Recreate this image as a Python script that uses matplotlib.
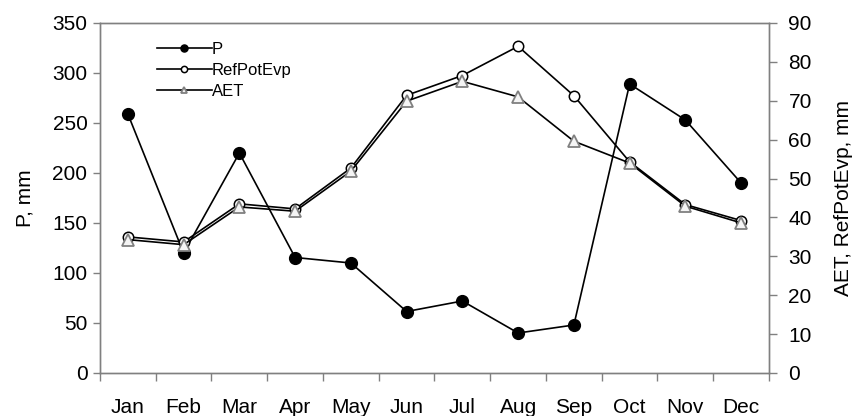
import numpy as np
import matplotlib.pyplot as plt
from matplotlib.ticker import FixedLocator

months = ['Jan', 'Feb', 'Mar', 'Apr', 'May', 'Jun', 'Jul', 'Aug', 'Sep', 'Oct', 'Nov', 'Dec']
p_mm = [259, 120, 220, 115.5, 110, 61.5, 72, 40, 48, 289, 253, 190]
ref_pot_evp = [35.0, 33.7, 43.5, 42.2, 52.7, 71.4, 76.5, 84.0, 71.3, 54.3, 43.3, 39.2]
aet = [34.3, 33.0, 42.7, 41.6, 51.9, 69.9, 75.0, 71.0, 59.6, 54.0, 42.9, 38.6]

plt.rcParams['font.family'] = ['Liberation Sans', 'DejaVu Sans']
grey = '#808080'
fs = 15

fig = plt.figure(figsize=(8.54, 4.16), dpi=100)
ax = fig.add_axes([100/854, 43/416, 669/854, 350/416])
ax2 = ax.twinx()

x = np.arange(len(months))

l1, = ax.plot(x, p_mm, '-', color='black', lw=1.2, marker='o', ms=8.5,
              mfc='black', mec='black', zorder=3)
l2, = ax2.plot(x, ref_pot_evp, '-', color='black', lw=1.2, marker='o', ms=7.5,
               mfc='white', mec='black', mew=1.1, zorder=3)
l3, = ax2.plot(x, aet, '-', color='black', lw=1.2, marker='^', ms=8,
               mfc='#f4f4f4', mec=grey, mew=1.3, zorder=4)

ax.set_xlim(-0.5, 11.5)
ax.set_ylim(0, 350)
ax2.set_ylim(0, 90)
ax.set_yticks(np.arange(0, 351, 50))
ax2.set_yticks(np.arange(0, 91, 10))

ax.set_xticks(x)
ax.set_xticklabels(months)
ax.xaxis.set_minor_locator(FixedLocator(np.arange(-0.5, 12, 1)))
ax.tick_params(axis='x', which='major', length=0, pad=18, labelsize=fs)
ax.tick_params(axis='x', which='minor', length=6, color=grey, width=1)
ax.tick_params(axis='y', length=5, color=grey, width=1, pad=4, labelsize=fs)
ax2.tick_params(axis='y', length=6, color=grey, width=1, pad=8, labelsize=fs)

for a in (ax, ax2):
    for s in a.spines.values():
        s.set_color(grey)
        s.set_linewidth(1)

ax.set_ylabel('P, mm', fontsize=fs, labelpad=13)
ax2.set_ylabel('AET, RefPotEvp, mm', fontsize=fs, labelpad=16)

leg = ax2.legend([l1, l2, l3], ['P', 'RefPotEvp', 'AET'], loc='upper left',
                 bbox_to_anchor=(0.075, 0.965), frameon=False, fontsize=12,
                 markerscale=0.6, handlelength=3.3, handletextpad=0.0,
                 labelspacing=0.35, borderaxespad=0)

fig.savefig('out.png', dpi=100)
